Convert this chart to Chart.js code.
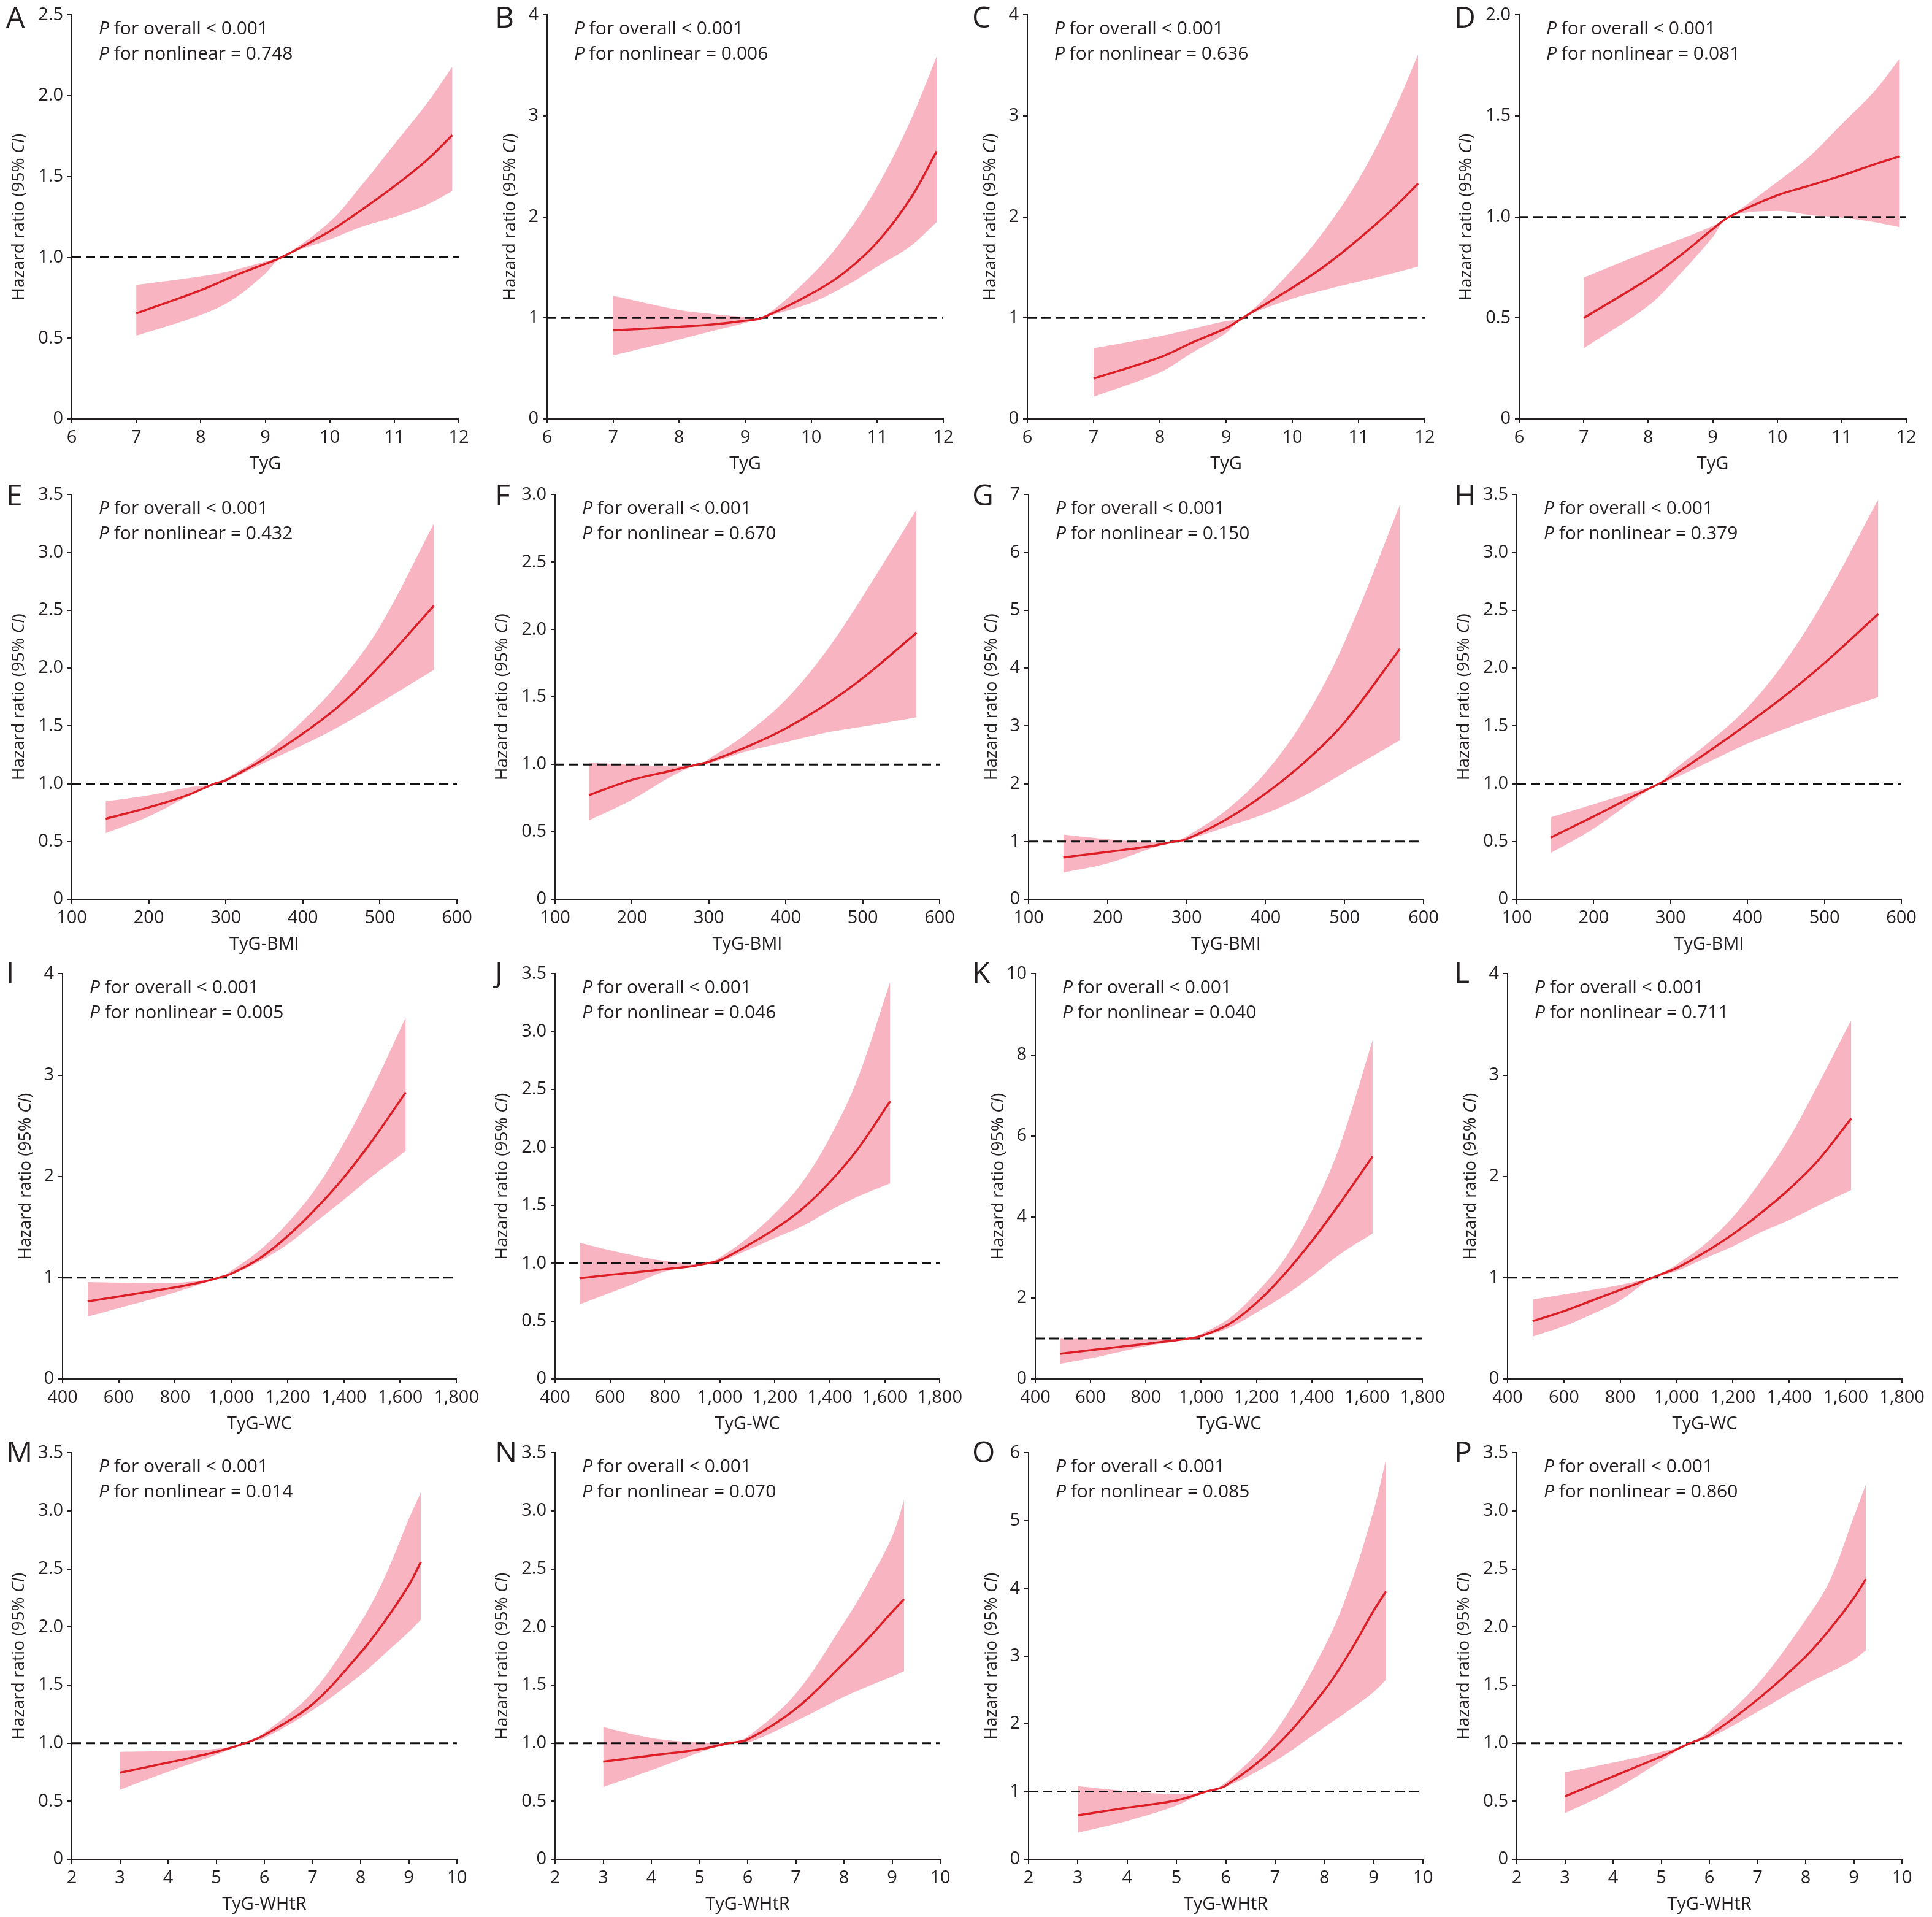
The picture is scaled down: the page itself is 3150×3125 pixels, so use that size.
<!DOCTYPE html>
<html>
<head>
<meta charset="utf-8">
<script src="https://cdn.jsdelivr.net/npm/chart.js@4.4.1/dist/chart.umd.min.js"></script>
<style>
  body { margin: 0; background: #fff; }
  #fig { position: relative; width: 3150px; height: 3125px; background: #fff; }
  #fig canvas { position: absolute; }
</style>
</head>
<body>
<div id="fig"></div>
<script>
// x positions of the spline estimates, one list per index
const tygX  = [7, 8, 8.5, 9, 9.25, 10, 10.5, 11, 11.5, 11.9];
const bmiX  = [144, 200, 250, 285, 300, 350, 400, 450, 500, 570];
const wcX   = [489, 600, 700, 800, 900, 955, 1000, 1100, 1200, 1300, 1400, 1500, 1620];
const whtrX = [3, 4, 5, 5.6, 6, 7, 8, 8.5, 9, 9.25];

// x tick labels
const tygTicks  = [6, 7, 8, 9, 10, 11, 12];
const bmiTicks  = [100, 200, 300, 400, 500, 600];
const wcTicks   = [400, 600, 800, 1000, 1200, 1400, 1600, 1800];
const whtrTicks = [2, 3, 4, 5, 6, 7, 8, 9, 10];
const xTitles   = ['TyG', 'TyG-BMI', 'TyG-WC', 'TyG-WHtR'];

// y axis range per panel
const yMax  = [2.5, 4, 4, 2, 3.5, 3, 7, 3.5, 4, 3.5, 10, 4, 3.5, 3.5, 6, 3.5];
const yStep = [0.5, 1, 1, 0.5, 0.5, 0.5, 1, 0.5, 1, 0.5, 2, 1, 0.5, 0.5, 1, 0.5];

const letters = ['A','B','C','D','E','F','G','H','I','J','K','L','M','N','O','P'];
const pNonlinear = ['0.748','0.006','0.636','0.081','0.432','0.670','0.150','0.379',
                    '0.005','0.046','0.040','0.711','0.014','0.070','0.085','0.860'];

// TyG
const hrA = [0.653, 0.797, 0.883, 0.96, 1.0, 1.162, 1.296, 1.44, 1.60, 1.757];
const upA = [0.83, 0.883, 0.92, 0.975, 1.0, 1.22, 1.45, 1.70, 1.95, 2.18];
const loA = [0.515, 0.643, 0.74, 0.90, 1.0, 1.11, 1.19, 1.25, 1.325, 1.41];
const hrB = [0.877, 0.913, 0.935, 0.973, 1.0, 1.24, 1.45, 1.75, 2.18, 2.65];
const upB = [1.22, 1.08, 1.04, 1.01, 1.0, 1.42, 1.80, 2.30, 2.95, 3.59];
const loB = [0.63, 0.787, 0.87, 0.95, 1.0, 1.15, 1.31, 1.51, 1.71, 1.95];
const hrC = [0.40, 0.61, 0.76, 0.90, 1.0, 1.30, 1.52, 1.78, 2.07, 2.33];
const upC = [0.70, 0.82, 0.895, 0.97, 1.0, 1.48, 1.88, 2.37, 3.0, 3.61];
const loC = [0.22, 0.46, 0.66, 0.85, 1.0, 1.19, 1.28, 1.36, 1.44, 1.51];
const hrD = [0.50, 0.694, 0.81, 0.94, 1.0, 1.107, 1.155, 1.205, 1.26, 1.30];
const upD = [0.70, 0.83, 0.89, 0.956, 1.0, 1.174, 1.30, 1.46, 1.62, 1.785];
const loD = [0.35, 0.56, 0.72, 0.90, 1.0, 1.03, 1.01, 0.997, 0.975, 0.95];
// TyG-BMI
const hrE = [0.696, 0.795, 0.90, 1.0, 1.03, 1.215, 1.433, 1.69, 2.02, 2.54];
const upE = [0.848, 0.90, 0.966, 1.0, 1.045, 1.255, 1.544, 1.90, 2.36, 3.25];
const loE = [0.572, 0.717, 0.887, 1.0, 1.02, 1.18, 1.334, 1.504, 1.70, 1.985];
const hrF = [0.772, 0.885, 0.952, 1.0, 1.02, 1.132, 1.267, 1.436, 1.64, 1.976];
const upF = [1.013, 0.997, 0.986, 1.0, 1.042, 1.233, 1.48, 1.82, 2.246, 2.89];
const loF = [0.585, 0.738, 0.907, 1.0, 1.008, 1.098, 1.166, 1.233, 1.28, 1.35];
const hrG = [0.725, 0.82, 0.909, 1.0, 1.04, 1.38, 1.83, 2.38, 3.06, 4.33];
const upG = [1.12, 1.04, 0.99, 1.0, 1.09, 1.54, 2.195, 3.14, 4.45, 6.82];
const loG = [0.462, 0.62, 0.856, 1.0, 1.03, 1.25, 1.486, 1.80, 2.195, 2.75];
const hrH = [0.533, 0.717, 0.887, 1.0, 1.058, 1.281, 1.517, 1.767, 2.043, 2.468];
const upH = [0.709, 0.822, 0.927, 1.0, 1.097, 1.36, 1.66, 2.07, 2.594, 3.46];
const loH = [0.40, 0.612, 0.848, 1.0, 1.032, 1.19, 1.347, 1.478, 1.596, 1.748];
// TyG-WC
const hrI = [0.766, 0.815, 0.86, 0.905, 0.96, 1.0, 1.04, 1.19, 1.41, 1.68, 1.99, 2.35, 2.83];
const upI = [0.956, 0.95, 0.947, 0.947, 0.975, 1.0, 1.07, 1.27, 1.54, 1.88, 2.33, 2.86, 3.57];
const loI = [0.616, 0.70, 0.775, 0.856, 0.945, 1.0, 1.03, 1.16, 1.33, 1.55, 1.77, 2.0, 2.25];
const hrJ = [0.87, 0.90, 0.923, 0.949, 0.975, 1.0, 1.025, 1.152, 1.296, 1.47, 1.70, 1.98, 2.40];
const upJ = [1.178, 1.112, 1.06, 1.02, 0.995, 1.0, 1.05, 1.217, 1.43, 1.70, 2.085, 2.585, 3.43];
const loJ = [0.644, 0.744, 0.836, 0.928, 0.97, 1.0, 1.015, 1.112, 1.217, 1.32, 1.454, 1.573, 1.69];
const hrK = [0.62, 0.71, 0.79, 0.865, 0.95, 1.0, 1.06, 1.35, 1.88, 2.58, 3.40, 4.32, 5.49];
const upK = [1.01, 1.0, 1.0, 0.99, 0.99, 1.0, 1.11, 1.49, 2.13, 2.95, 4.15, 5.73, 8.36];
const loK = [0.376, 0.51, 0.66, 0.81, 0.92, 1.0, 1.04, 1.26, 1.64, 2.05, 2.54, 3.07, 3.59];
const hrL = [0.571, 0.67, 0.775, 0.88, 0.985, 1.045, 1.095, 1.25, 1.43, 1.64, 1.875, 2.15, 2.573];
const upL = [0.784, 0.835, 0.88, 0.93, 0.995, 1.06, 1.13, 1.33, 1.60, 1.96, 2.38, 2.894, 3.546];
const loL = [0.42, 0.52, 0.64, 0.775, 0.975, 1.03, 1.065, 1.19, 1.31, 1.45, 1.57, 1.707, 1.866];
// TyG-WHtR
const hrM = [0.746, 0.833, 0.926, 1.0, 1.071, 1.336, 1.78, 2.05, 2.36, 2.56];
const upM = [0.926, 0.934, 0.952, 1.0, 1.09, 1.44, 2.04, 2.43, 2.93, 3.16];
const loM = [0.60, 0.754, 0.90, 1.0, 1.045, 1.283, 1.587, 1.77, 1.958, 2.063];
const hrN = [0.841, 0.894, 0.947, 1.0, 1.032, 1.296, 1.69, 1.90, 2.13, 2.24];
const upN = [1.138, 1.045, 1.005, 1.0, 1.058, 1.428, 2.037, 2.38, 2.778, 3.095];
const loN = [0.622, 0.767, 0.92, 1.0, 1.005, 1.19, 1.40, 1.49, 1.574, 1.62];
const hrO = [0.649, 0.762, 0.87, 1.0, 1.088, 1.655, 2.494, 3.04, 3.67, 3.955];
const upO = [1.08, 1.007, 0.96, 1.0, 1.134, 1.88, 3.13, 3.99, 5.15, 5.9];
const loO = [0.395, 0.567, 0.794, 1.0, 1.066, 1.45, 1.95, 2.2, 2.47, 2.65];
const hrP = [0.542, 0.714, 0.886, 1.0, 1.07, 1.376, 1.746, 1.98, 2.25, 2.413];
const upP = [0.749, 0.833, 0.926, 1.0, 1.11, 1.508, 2.063, 2.4, 2.95, 3.227];
const loP = [0.397, 0.595, 0.847, 1.0, 1.045, 1.27, 1.508, 1.61, 1.72, 1.80];

const hrAll = [hrA, hrB, hrC, hrD, hrE, hrF, hrG, hrH, hrI, hrJ, hrK, hrL, hrM, hrN, hrO, hrP];
const upAll = [upA, upB, upC, upD, upE, upF, upG, upH, upI, upJ, upK, upL, upM, upN, upO, upP];
const loAll = [loA, loB, loC, loD, loE, loF, loG, loH, loI, loJ, loK, loL, loM, loN, loO, loP];
const xByRow = [tygX, bmiX, wcX, whtrX];
const ticksByRow = [tygTicks, bmiTicks, wcTicks, whtrTicks];

// page layout (pixels)
const colLeft = [0, 787, 1575, 2362];
const colW = [787, 788, 787, 788];
const rowTop = [0, 782, 1563, 2344];
const rowH = [782, 781, 781, 781];
const plotTop = [20, 802, 1586, 2368];
const plotBottom = [683, 1466, 2248, 3031];
const letterBase = [45, 824, 1602, 2384];
const letterX = [10, 20, 10, 9];
const axisLeft = [117, 892, 1675, 2477, 117, 905, 1677, 2473, 102, 905, 1688, 2458, 117, 905, 1677, 2473];
const axisRight = [748, 1538, 2323, 3108, 745, 1532, 2321, 3100, 745, 1533, 2320, 3101, 745, 1533, 2320, 3101];

const ink = '#231f20';
const red = '#dc1f26';
const pink = '#f8b5c1';
const FAM = '"Open Sans", sans-serif';

function pts(xs, ys) {
  return xs.map((x, k) => ({ x: x, y: ys[k] }));
}

function drawRuns(ctx, runs, x, y) {
  let cx = x;
  runs.forEach(([font, txt]) => {
    ctx.font = font;
    ctx.fillText(txt, cx, y);
    cx += ctx.measureText(txt).width;
  });
}

function runsWidth(ctx, runs) {
  let w = 0;
  runs.forEach(([font, txt]) => { ctx.font = font; w += ctx.measureText(txt).width; });
  return w;
}

const panelText = {
  id: 'panelText',
  afterDraw(chart, args, o) {
    const ctx = chart.ctx;
    const a = chart.chartArea;
    const f = '30px ' + FAM;
    const fi = 'italic 30px ' + FAM;
    const fy = '28px ' + FAM;
    const fyi = 'italic 28px ' + FAM;
    ctx.save();
    ctx.fillStyle = ink;
    ctx.textBaseline = 'alphabetic';
    ctx.textAlign = 'left';

    ctx.font = '48px ' + FAM;
    ctx.fillText(o.letter, o.letterX, o.letterY);

    drawRuns(ctx, [[fi, 'P'], [f, ' for overall < 0.001']], a.left + 44, a.top + 32);
    drawRuns(ctx, [[fi, 'P'], [f, ' for nonlinear = ' + o.pNl]], a.left + 44, a.top + 73);

    ctx.font = '29px ' + FAM;
    ctx.textAlign = 'center';
    ctx.fillText(o.xTitle, (a.left + a.right) / 2, a.bottom + 82);

    ctx.textAlign = 'left';
    const runs = [[fy, 'Hazard ratio (95% '], [fyi, 'CI'], [fy, ')']];
    const w = runsWidth(ctx, runs);
    ctx.translate(a.left - o.yOff, (a.top + a.bottom) / 2);
    ctx.rotate(-Math.PI / 2);
    drawRuns(ctx, runs, -w / 2, 0);
    ctx.restore();
  }
};

const fig = document.getElementById('fig');

for (let i = 0; i < 16; i++) {
  const row = Math.floor(i / 4);
  const col = i % 4;
  const xs = xByRow[row];
  const xt = ticksByRow[row];
  const step = yStep[i];

  const canvas = document.createElement('canvas');
  canvas.width = colW[col];
  canvas.height = rowH[row];
  canvas.style.left = colLeft[col] + 'px';
  canvas.style.top = rowTop[row] + 'px';
  fig.appendChild(canvas);

  const tickFont = { family: FAM, size: 29 };
  const gridOpts = { display: true, drawOnChartArea: false, drawTicks: true, tickLength: 7, color: ink, lineWidth: 2 };
  const borderOpts = { display: true, color: ink, width: 2 };
  const curve = { pointRadius: 0, tension: 0.35, cubicInterpolationMode: 'default' };

  new Chart(canvas, {
    type: 'line',
    data: {
      datasets: [
        Object.assign({ data: pts(xs, upAll[i]), fill: '+1', backgroundColor: pink,
          borderColor: 'rgba(0,0,0,0)', borderWidth: 0, order: 3 }, curve),
        Object.assign({ data: pts(xs, loAll[i]), fill: false,
          borderColor: 'rgba(0,0,0,0)', borderWidth: 0, order: 2 }, curve),
        Object.assign({ data: pts(xs, hrAll[i]), fill: false, borderColor: red,
          borderWidth: 3.5, order: 0 }, curve),
        { data: [{ x: xt[0], y: 1 }, { x: xt[xt.length - 1], y: 1 }], fill: false, borderColor: '#111',
          borderWidth: 3, borderDash: [15, 8], pointRadius: 0, order: 1 }
      ]
    },
    options: {
      responsive: false,
      animation: false,
      devicePixelRatio: 1,
      events: [],
      layout: {
        padding: {
          left: 0,
          top: plotTop[row] - rowTop[row],
          right: colLeft[col] + colW[col] - axisRight[i],
          bottom: 0
        }
      },
      plugins: {
        legend: { display: false },
        tooltip: { enabled: false },
        panelText: {
          letter: letters[i],
          letterX: letterX[col],
          letterY: letterBase[row] - rowTop[row],
          pNl: pNonlinear[i],
          xTitle: xTitles[row],
          yOff: step < 1 ? 78 : 52
        }
      },
      scales: {
        x: {
          type: 'linear',
          min: xt[0],
          max: xt[xt.length - 1],
          afterBuildTicks: (s) => { s.ticks = xt.map((v) => ({ value: v })); },
          afterFit: (s) => { s.height = rowTop[row] + rowH[row] - plotBottom[row]; },
          ticks: {
            autoSkip: false,
            maxRotation: 0,
            padding: 6,
            color: ink,
            font: tickFont,
            callback: (v) => (row === 2 ? v.toLocaleString('en-US') : String(v))
          },
          grid: gridOpts,
          border: borderOpts
        },
        y: {
          type: 'linear',
          min: 0,
          max: yMax[i],
          afterFit: (s) => { s.width = axisLeft[i] - colLeft[col]; },
          ticks: {
            stepSize: step,
            padding: 7,
            color: ink,
            font: tickFont,
            callback: (v) => (v === 0 ? '0' : (step < 1 ? v.toFixed(1) : String(v)))
          },
          grid: gridOpts,
          border: borderOpts
        }
      }
    },
    plugins: [panelText]
  });
}
</script>
</body>
</html>
